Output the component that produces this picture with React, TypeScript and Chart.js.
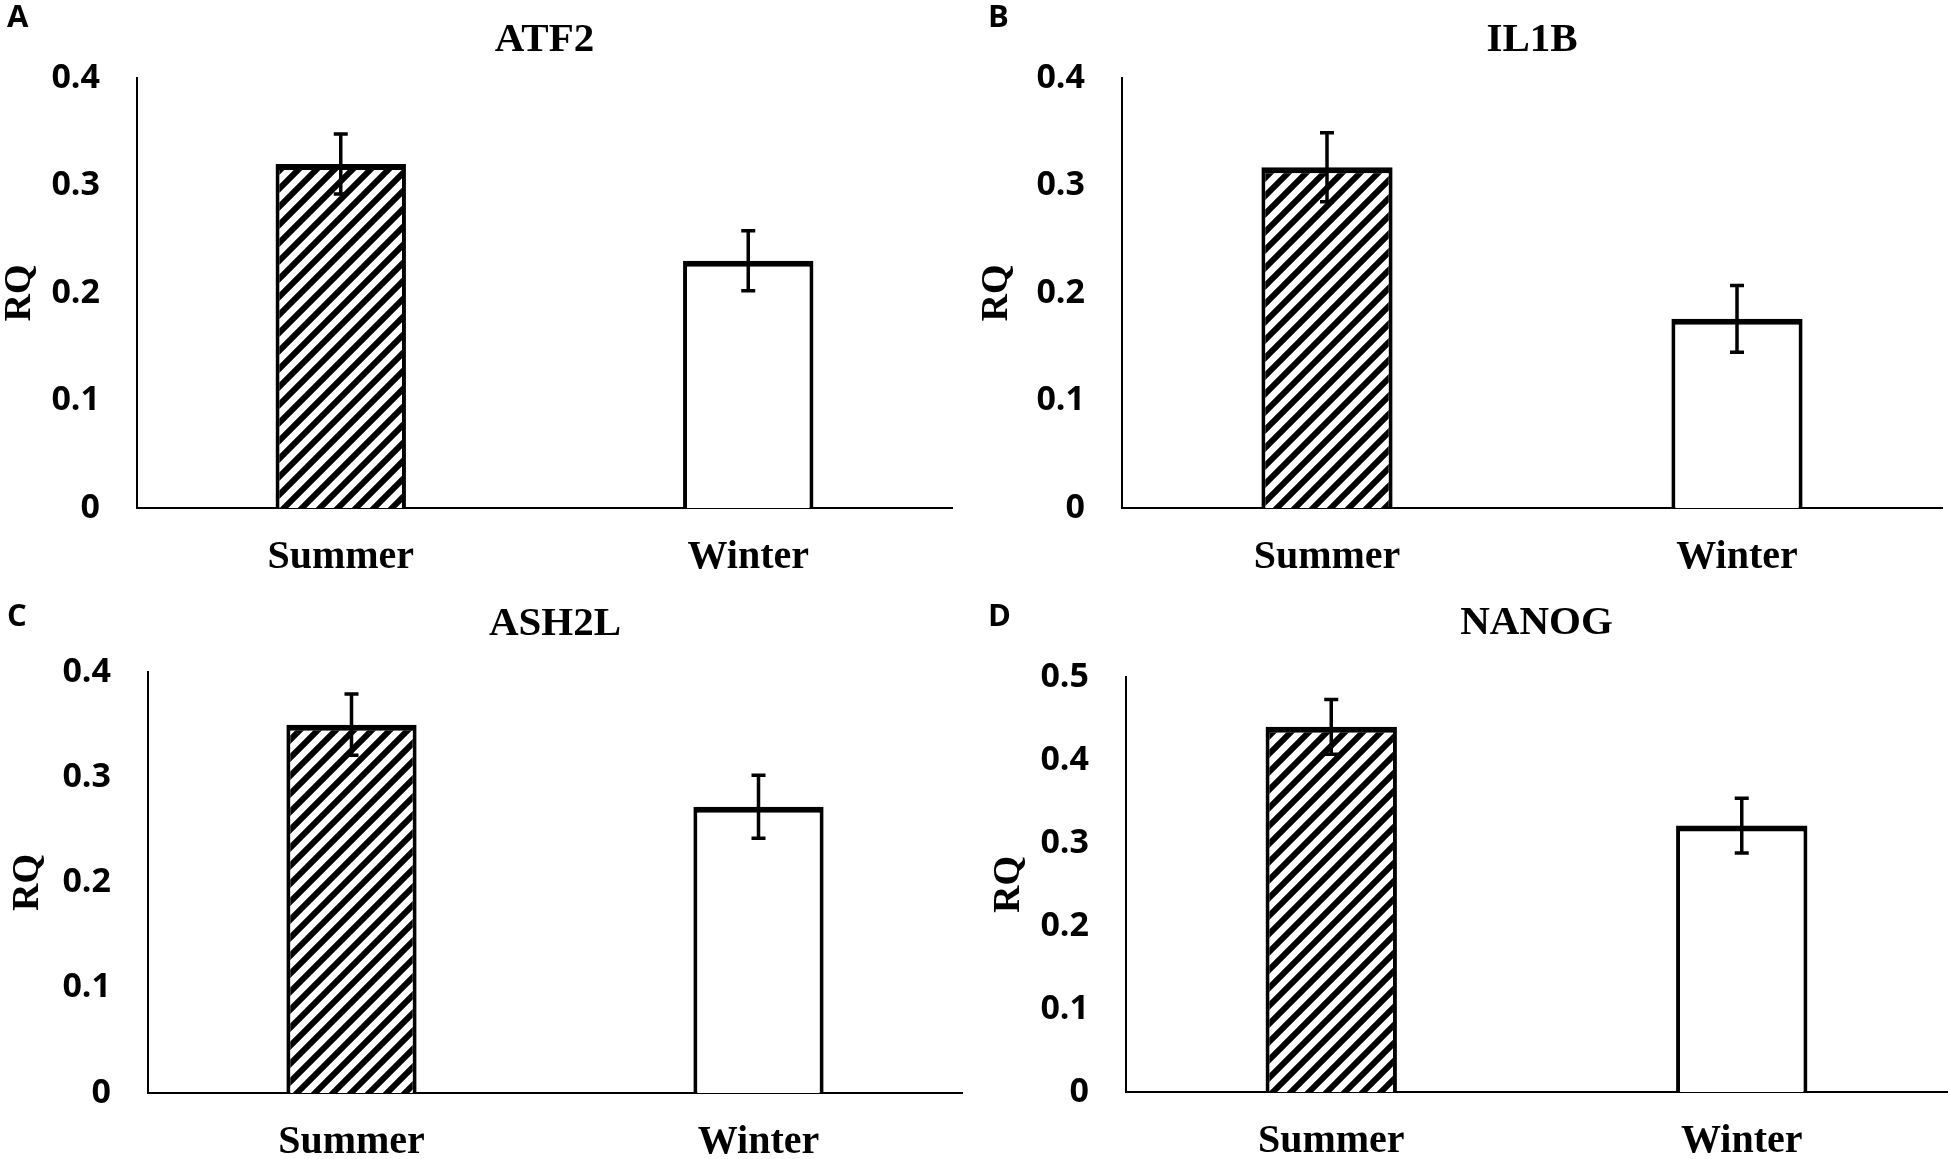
import { useEffect, useRef } from 'react';
import Chart from 'chart.js/auto';

// seasons on the x axis
const categories = ['Summer', 'Winter'];

const genes = ['ATF2', 'IL1B', 'ASH2L', 'NANOG'];
const panelLetters = ['A', 'B', 'C', 'D'];

// RQ means (summer, winter) and their error bars
const atf2Values = [0.32, 0.23];
const atf2Errors = [0.028, 0.028];
const il1bValues = [0.317, 0.176];
const il1bErrors = [0.032, 0.031];
const ash2lValues = [0.35, 0.272];
const ash2lErrors = [0.029, 0.03];
const nanogValues = [0.44, 0.321];
const nanogErrors = [0.033, 0.033];

const allValues = [atf2Values, il1bValues, ash2lValues, nanogValues];
const allErrors = [atf2Errors, il1bErrors, ash2lErrors, nanogErrors];
const yMaxes = [0.4, 0.4, 0.4, 0.5];
const yStep = 0.1;

const SERIF = '"Liberation Serif", "Times New Roman", serif';
const SANS = '"Open Sans", "Noto Sans", sans-serif';

// where each panel sits on the page
const panels = [
  { left: 0, top: 0, width: 975, height: 580, axisLeft: 137, axisRight: 952, titleY: 40, plotTop: 78, plotBottom: 508, rqX: 20 },
  { left: 975, top: 0, width: 975, height: 580, axisLeft: 147, axisRight: 967, titleY: 40, plotTop: 78, plotBottom: 508, rqX: 22 },
  { left: 0, top: 580, width: 975, height: 579, axisLeft: 148, axisRight: 962, titleY: 44, plotTop: 92, plotBottom: 513, rqX: 28 },
  { left: 975, top: 580, width: 975, height: 579, axisLeft: 151, axisRight: 972, titleY: 43, plotTop: 97, plotBottom: 512, rqX: 34 },
];

function makeHatch(): CanvasPattern | string {
  const s = 18;
  const tile = document.createElement('canvas');
  tile.width = s;
  tile.height = s;
  const c = tile.getContext('2d');
  if (!c) return '#888';
  c.fillStyle = '#fff';
  c.fillRect(0, 0, s, s);
  c.strokeStyle = '#000';
  c.lineWidth = 6;
  c.beginPath();
  c.moveTo(0, s);
  c.lineTo(s, 0);
  c.moveTo(-s / 2, s / 2);
  c.lineTo(s / 2, -s / 2);
  c.moveTo(s / 2, s * 1.5);
  c.lineTo(s * 1.5, s / 2);
  c.stroke();
  return c.createPattern(tile, 'repeat') || '#888';
}

const errorBarPlugin = {
  id: 'errorBars',
  afterDatasetsDraw(chart: any, _args: any, opts: any) {
    const errors: number[] = opts.errors || [];
    const meta = chart.getDatasetMeta(0);
    const yScale = chart.scales.y;
    const values = chart.data.datasets[0].data as number[];
    const ctx = chart.ctx;
    ctx.save();
    ctx.strokeStyle = '#000';
    ctx.lineWidth = 3.5;
    meta.data.forEach((bar: any, i: number) => {
      const v = values[i];
      const e = errors[i] || 0;
      const yTop = yScale.getPixelForValue(v + e);
      const yBot = yScale.getPixelForValue(v - e);
      const x = bar.x;
      ctx.beginPath();
      ctx.moveTo(x, yTop);
      ctx.lineTo(x, yBot);
      ctx.moveTo(x - 7, yTop);
      ctx.lineTo(x + 7, yTop);
      ctx.moveTo(x - 7, yBot);
      ctx.lineTo(x + 7, yBot);
      ctx.stroke();
    });
    ctx.restore();
  },
};

interface PanelProps {
  index: number;
}

const Panel: React.FC<PanelProps> = ({ index }) => {
  const chartRef = useRef<HTMLCanvasElement | null>(null);
  const p = panels[index];

  useEffect(() => {
    if (!chartRef.current) return;
    const ctx = chartRef.current.getContext('2d');
    if (!ctx) return;

    const titleLine = 41 * 1.2;
    const titlePadTop = p.titleY - titleLine / 2;
    const titlePadBottom = p.plotTop - titlePadTop - titleLine;

    const chartInstance = new Chart(ctx, {
      type: 'bar',
      data: {
        labels: categories,
        datasets: [
          {
            data: allValues[index],
            backgroundColor: [makeHatch(), '#ffffff'],
            borderColor: '#000',
            borderWidth: { top: 6, left: 4, right: 4, bottom: 0 },
            borderSkipped: false,
            categoryPercentage: 1,
            barPercentage: 0.32,
          },
        ],
      },
      options: {
        animation: false,
        responsive: false,
        maintainAspectRatio: false,
        layout: { padding: { left: 0, right: p.width - p.axisRight, top: 0, bottom: 0 } },
        plugins: {
          legend: { display: false },
          tooltip: { enabled: false },
          title: {
            display: true,
            text: genes[index],
            fullSize: false,
            color: '#000',
            font: { family: SERIF, size: 41, weight: 'bold', lineHeight: 1.2 },
            padding: { top: titlePadTop, bottom: titlePadBottom },
          },
          // @ts-ignore custom plugin options
          errorBars: { errors: allErrors[index] },
        },
        scales: {
          x: {
            grid: { display: false, drawTicks: false },
            border: { display: true, color: '#000', width: 2 },
            ticks: {
              color: '#000',
              padding: 26,
              font: { family: SERIF, size: 40, weight: 'bold' },
            },
            afterFit: (scale: any) => {
              scale.height = p.height - p.plotBottom;
            },
          },
          y: {
            min: 0,
            max: yMaxes[index],
            grid: { display: false, drawTicks: false },
            border: { display: true, color: '#000', width: 2 },
            ticks: {
              stepSize: yStep,
              color: '#000',
              padding: 37,
              font: { family: SANS, size: 34, weight: 'bold' },
              callback: (v: any) => String(Number(Number(v).toFixed(1))),
            },
            title: {
              display: true,
              text: 'RQ',
              color: '#000',
              font: { family: SERIF, size: 38, weight: 'bold', lineHeight: 1 },
              padding: { top: p.rqX - 19, bottom: 0 },
            },
            afterFit: (scale: any) => {
              scale.width = p.axisLeft;
            },
          },
        },
      },
      plugins: [errorBarPlugin],
    });

    return () => {
      chartInstance.destroy();
    };
  }, [index]);

  return (
    <div style={{ position: 'absolute', left: p.left, top: p.top, width: p.width, height: p.height }}>
      <canvas ref={chartRef} width={p.width} height={p.height} style={{ width: p.width, height: p.height }} />
      <div
        style={{
          position: 'absolute',
          left: index % 2 === 0 ? 7 : 13,
          top: index < 2 ? 0 : 19,
          fontFamily: SANS,
          fontWeight: 700,
          fontSize: 31,
          lineHeight: 1,
          color: '#000',
        }}
      >
        {panelLetters[index]}
      </div>
    </div>
  );
};

export default function App() {
  return (
    <div style={{ position: 'absolute', left: 0, top: 0, width: 1950, height: 1159, background: '#fff', overflow: 'hidden' }}>
      {genes.map((g, i) => (
        <Panel key={g} index={i} />
      ))}
    </div>
  );
}
